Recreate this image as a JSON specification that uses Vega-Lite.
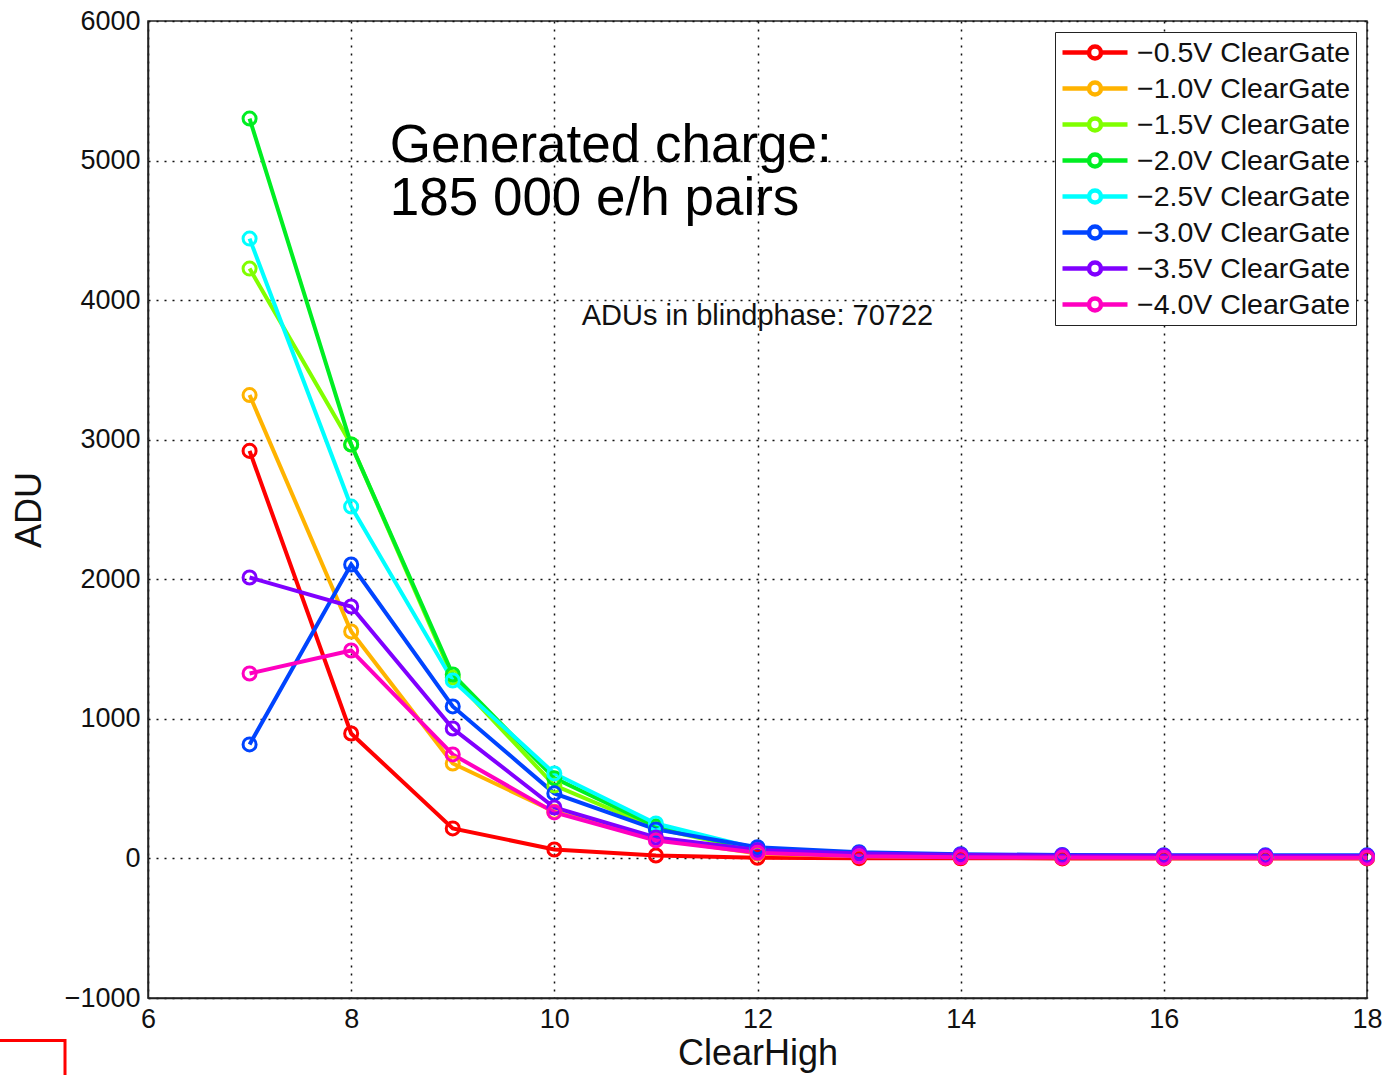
{
  "$schema": "https://vega.github.io/schema/vega-lite/v6.json",
  "width": 1219,
  "height": 977,
  "autosize": {"type": "none"},
  "padding": {"left": 148, "top": 21, "right": 20, "bottom": 77},
  "background": "white",
  "config": {
    "font": "Liberation Sans",
    "view": {"stroke": "#222", "strokeWidth": 1.5},
    "axis": {
      "labelFont": "Liberation Sans", "titleFont": "Liberation Sans",
      "labelFontSize": 27, "titleFontSize": 36, "titleFontWeight": "normal",
      "labelColor": "#111", "titleColor": "#111",
      "domainColor": "#222", "domainWidth": 1.5,
      "tickColor": "#222", "tickSize": 0,
      "grid": true, "gridColor": "#111", "gridDash": [2, 6], "gridWidth": 1.5, "gridOpacity": 1
    }
  },
  "datasets": {
    "main": [
      {"series": "−0.5V ClearGate", "x": 7, "y": 2920}, {"series": "−0.5V ClearGate", "x": 8, "y": 895}, {"series": "−0.5V ClearGate", "x": 9, "y": 215}, {"series": "−0.5V ClearGate", "x": 10, "y": 64}, {"series": "−0.5V ClearGate", "x": 11, "y": 21}, {"series": "−0.5V ClearGate", "x": 12, "y": 5}, {"series": "−0.5V ClearGate", "x": 13, "y": 2}, {"series": "−0.5V ClearGate", "x": 14, "y": 1}, {"series": "−0.5V ClearGate", "x": 15, "y": 0}, {"series": "−0.5V ClearGate", "x": 16, "y": 0}, {"series": "−0.5V ClearGate", "x": 17, "y": 0}, {"series": "−0.5V ClearGate", "x": 18, "y": 0},
      {"series": "−1.0V ClearGate", "x": 7, "y": 3320}, {"series": "−1.0V ClearGate", "x": 8, "y": 1626}, {"series": "−1.0V ClearGate", "x": 9, "y": 680}, {"series": "−1.0V ClearGate", "x": 10, "y": 335}, {"series": "−1.0V ClearGate", "x": 11, "y": 140}, {"series": "−1.0V ClearGate", "x": 12, "y": 35}, {"series": "−1.0V ClearGate", "x": 13, "y": 15}, {"series": "−1.0V ClearGate", "x": 14, "y": 10}, {"series": "−1.0V ClearGate", "x": 15, "y": 8}, {"series": "−1.0V ClearGate", "x": 16, "y": 7}, {"series": "−1.0V ClearGate", "x": 17, "y": 7}, {"series": "−1.0V ClearGate", "x": 18, "y": 6},
      {"series": "−1.5V ClearGate", "x": 7, "y": 4226}, {"series": "−1.5V ClearGate", "x": 8, "y": 2966}, {"series": "−1.5V ClearGate", "x": 9, "y": 1297}, {"series": "−1.5V ClearGate", "x": 10, "y": 523}, {"series": "−1.5V ClearGate", "x": 11, "y": 215}, {"series": "−1.5V ClearGate", "x": 12, "y": 55}, {"series": "−1.5V ClearGate", "x": 13, "y": 25}, {"series": "−1.5V ClearGate", "x": 14, "y": 15}, {"series": "−1.5V ClearGate", "x": 15, "y": 12}, {"series": "−1.5V ClearGate", "x": 16, "y": 11}, {"series": "−1.5V ClearGate", "x": 17, "y": 10}, {"series": "−1.5V ClearGate", "x": 18, "y": 10},
      {"series": "−2.0V ClearGate", "x": 7, "y": 5301}, {"series": "−2.0V ClearGate", "x": 8, "y": 2966}, {"series": "−2.0V ClearGate", "x": 9, "y": 1318}, {"series": "−2.0V ClearGate", "x": 10, "y": 575}, {"series": "−2.0V ClearGate", "x": 11, "y": 230}, {"series": "−2.0V ClearGate", "x": 12, "y": 58}, {"series": "−2.0V ClearGate", "x": 13, "y": 25}, {"series": "−2.0V ClearGate", "x": 14, "y": 15}, {"series": "−2.0V ClearGate", "x": 15, "y": 12}, {"series": "−2.0V ClearGate", "x": 16, "y": 11}, {"series": "−2.0V ClearGate", "x": 17, "y": 10}, {"series": "−2.0V ClearGate", "x": 18, "y": 10},
      {"series": "−2.5V ClearGate", "x": 7, "y": 4441}, {"series": "−2.5V ClearGate", "x": 8, "y": 2521}, {"series": "−2.5V ClearGate", "x": 9, "y": 1275}, {"series": "−2.5V ClearGate", "x": 10, "y": 609}, {"series": "−2.5V ClearGate", "x": 11, "y": 250}, {"series": "−2.5V ClearGate", "x": 12, "y": 70}, {"series": "−2.5V ClearGate", "x": 13, "y": 30}, {"series": "−2.5V ClearGate", "x": 14, "y": 20}, {"series": "−2.5V ClearGate", "x": 15, "y": 15}, {"series": "−2.5V ClearGate", "x": 16, "y": 14}, {"series": "−2.5V ClearGate", "x": 17, "y": 13}, {"series": "−2.5V ClearGate", "x": 18, "y": 13},
      {"series": "−3.0V ClearGate", "x": 7, "y": 817}, {"series": "−3.0V ClearGate", "x": 8, "y": 2106}, {"series": "−3.0V ClearGate", "x": 9, "y": 1089}, {"series": "−3.0V ClearGate", "x": 10, "y": 466}, {"series": "−3.0V ClearGate", "x": 11, "y": 208}, {"series": "−3.0V ClearGate", "x": 12, "y": 80}, {"series": "−3.0V ClearGate", "x": 13, "y": 45}, {"series": "−3.0V ClearGate", "x": 14, "y": 30}, {"series": "−3.0V ClearGate", "x": 15, "y": 25}, {"series": "−3.0V ClearGate", "x": 16, "y": 23}, {"series": "−3.0V ClearGate", "x": 17, "y": 22}, {"series": "−3.0V ClearGate", "x": 18, "y": 22},
      {"series": "−3.5V ClearGate", "x": 7, "y": 2013}, {"series": "−3.5V ClearGate", "x": 8, "y": 1805}, {"series": "−3.5V ClearGate", "x": 9, "y": 931}, {"series": "−3.5V ClearGate", "x": 10, "y": 365}, {"series": "−3.5V ClearGate", "x": 11, "y": 150}, {"series": "−3.5V ClearGate", "x": 12, "y": 60}, {"series": "−3.5V ClearGate", "x": 13, "y": 35}, {"series": "−3.5V ClearGate", "x": 14, "y": 25}, {"series": "−3.5V ClearGate", "x": 15, "y": 20}, {"series": "−3.5V ClearGate", "x": 16, "y": 19}, {"series": "−3.5V ClearGate", "x": 17, "y": 18}, {"series": "−3.5V ClearGate", "x": 18, "y": 18},
      {"series": "−4.0V ClearGate", "x": 7, "y": 1325}, {"series": "−4.0V ClearGate", "x": 8, "y": 1490}, {"series": "−4.0V ClearGate", "x": 9, "y": 745}, {"series": "−4.0V ClearGate", "x": 10, "y": 330}, {"series": "−4.0V ClearGate", "x": 11, "y": 129}, {"series": "−4.0V ClearGate", "x": 12, "y": 40}, {"series": "−4.0V ClearGate", "x": 13, "y": 15}, {"series": "−4.0V ClearGate", "x": 14, "y": 8}, {"series": "−4.0V ClearGate", "x": 15, "y": 6}, {"series": "−4.0V ClearGate", "x": 16, "y": 5}, {"series": "−4.0V ClearGate", "x": 17, "y": 5}, {"series": "−4.0V ClearGate", "x": 18, "y": 5}
    ]
  },
  "layer": [
    {
      "data": {"name": "main"},
      "mark": {"type": "line", "strokeWidth": 4, "point": {"filled": false, "size": 170, "strokeWidth": 3}},
      "encoding": {
        "x": {"field": "x", "type": "quantitative", "title": "ClearHigh",
              "scale": {"domain": [6, 18], "nice": false, "zero": false},
              "axis": {"values": [6, 8, 10, 12, 14, 16, 18], "format": "d", "labelPadding": 8, "titlePadding": 4, "labelFlush": false}},
        "y": {"field": "y", "type": "quantitative", "title": "ADU",
              "scale": {"domain": [-1000, 6000], "nice": false, "zero": false},
              "axis": {"values": [-1000, 0, 1000, 2000, 3000, 4000, 5000, 6000], "format": "d", "labelPadding": 8, "titlePadding": 16, "labelFlush": false}},
        "color": {"field": "series", "type": "nominal", "sort": null,
                  "scale": {"domain": ["−0.5V ClearGate", "−1.0V ClearGate", "−1.5V ClearGate", "−2.0V ClearGate", "−2.5V ClearGate", "−3.0V ClearGate", "−3.5V ClearGate", "−4.0V ClearGate"],
                            "range": ["#ff0000", "#ffb300", "#80ff00", "#00ee22", "#00ffff", "#0044ff", "#8000ff", "#ff00c0"]},
                  "legend": {"title": null, "orient": "top-right", "offset": 11,
                             "labelFontSize": 28.5, "labelFont": "Liberation Sans", "labelColor": "#111", "labelLimit": 0,
                             "symbolType": "M-1,0H1.04M1.96,0H4M1.04,0A0.46,0.46 0 1,1 1.96,0A0.46,0.46 0 1,1 1.04,0",
                             "symbolSize": 676, "symbolStrokeWidth": 4.5, "symbolFillColor": "transparent",
                             "rowPadding": 5, "labelOffset": 46,
                             "fillColor": "white", "strokeColor": "#222", "padding": 5}}
      }
    },
    {
      "data": {"values": [{"x": 8.38, "y": 5290, "t": ["Generated charge:", "185 000 e/h pairs"]}]},
      "mark": {"type": "text", "align": "left", "baseline": "top", "fontSize": 53, "lineHeight": 53, "font": "Liberation Sans", "color": "#000"},
      "encoding": {"x": {"field": "x", "type": "quantitative"}, "y": {"field": "y", "type": "quantitative"}, "text": {"field": "t"}}
    },
    {
      "data": {"values": [{"x": 12.0, "y": 3883, "t": "ADUs in blindphase: 70722"}]},
      "mark": {"type": "text", "align": "center", "baseline": "middle", "fontSize": 29, "font": "Liberation Sans", "color": "#111"},
      "encoding": {"x": {"field": "x", "type": "quantitative"}, "y": {"field": "y", "type": "quantitative"}, "text": {"field": "t"}}
    },
    {
      "data": {"values": [{"x": 4.5, "y": -1304, "o": 1}, {"x": 5.183, "y": -1304, "o": 2}, {"x": 5.183, "y": -1600, "o": 3}]},
      "mark": {"type": "line", "color": "#ff0000", "strokeWidth": 3, "clip": false},
      "encoding": {"x": {"field": "x", "type": "quantitative"}, "y": {"field": "y", "type": "quantitative"}, "order": {"field": "o"}}
    }
  ]
}
